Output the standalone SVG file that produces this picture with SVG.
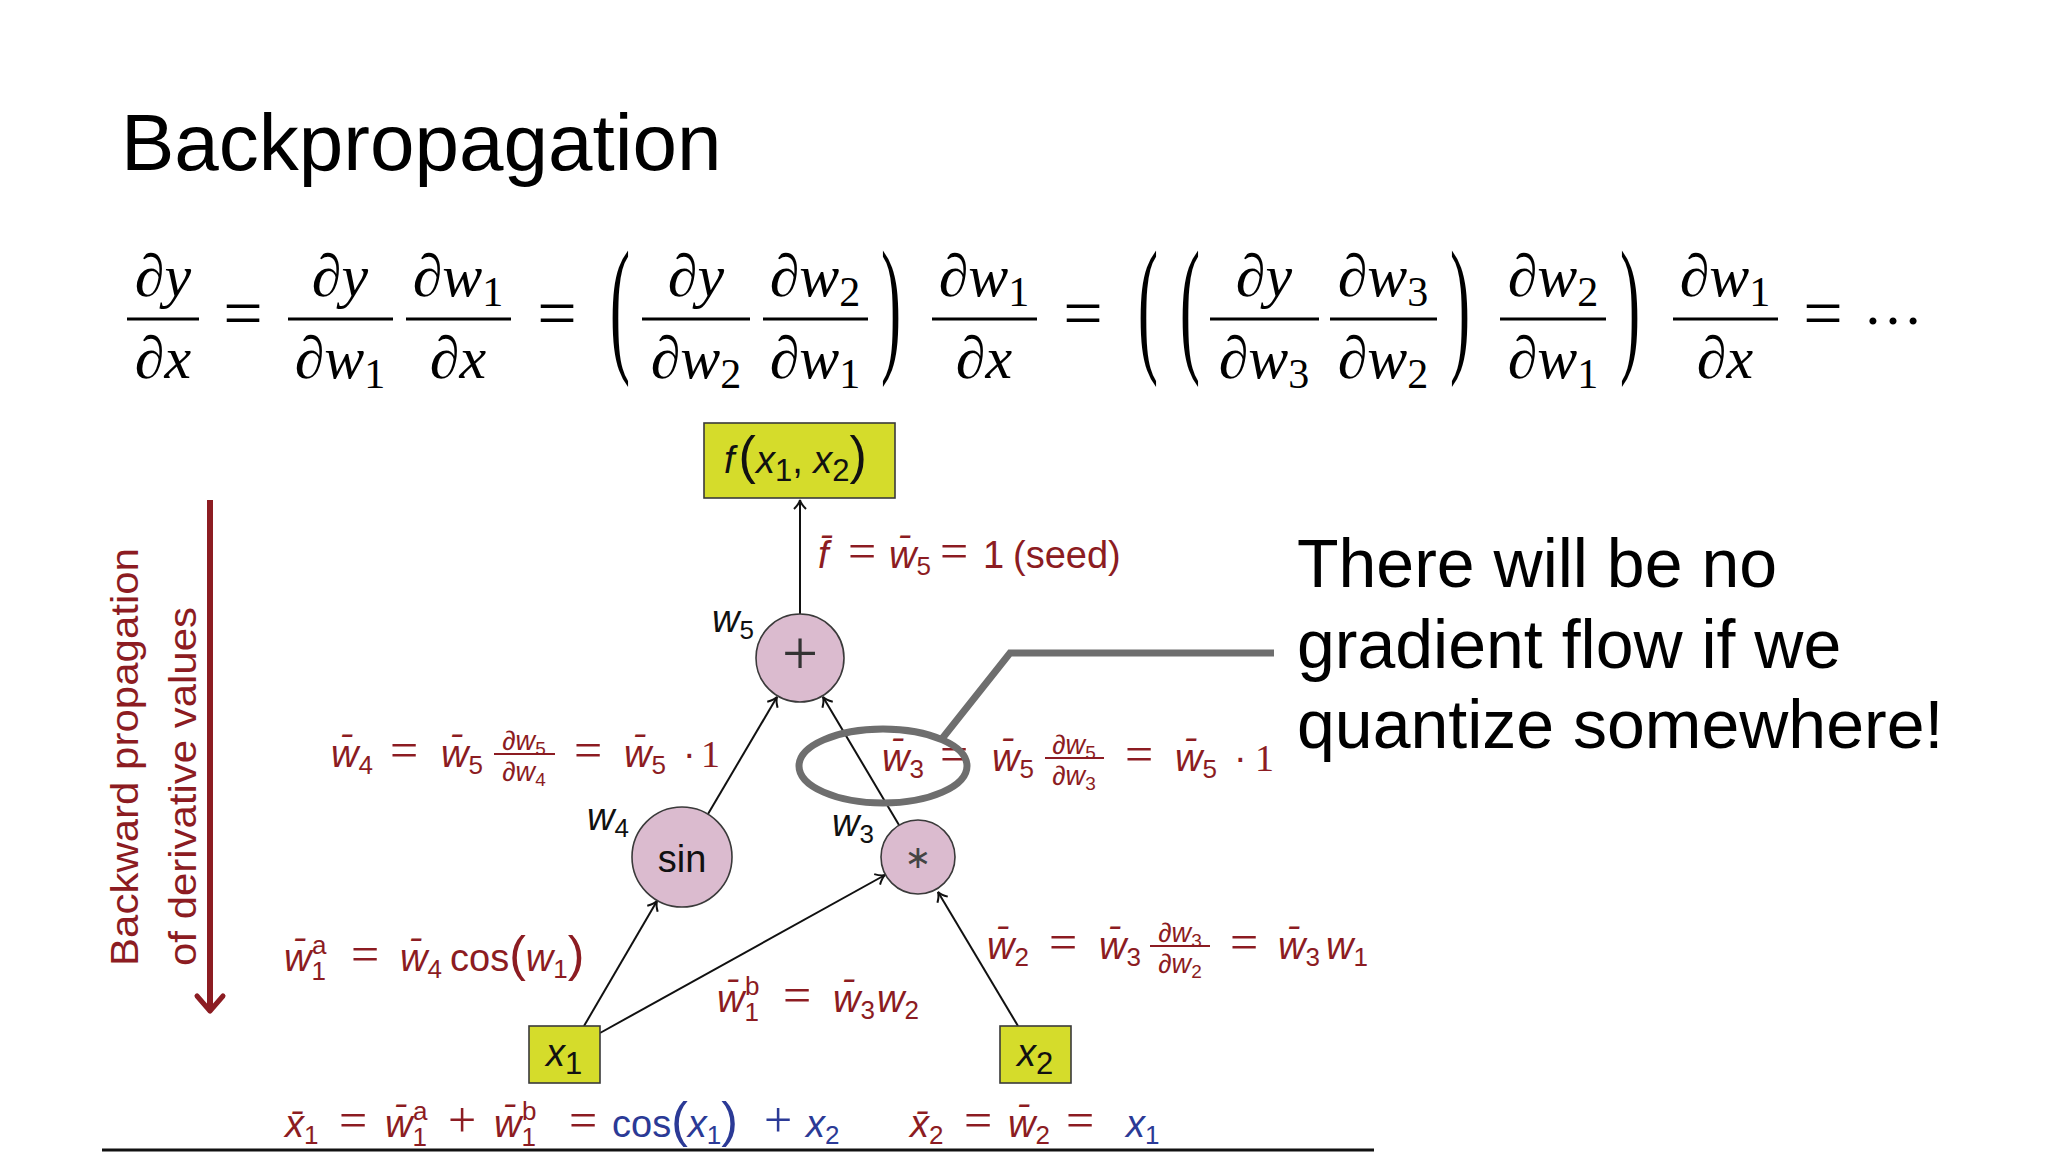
<svg xmlns="http://www.w3.org/2000/svg" width="2048" height="1152" viewBox="0 0 2048 1152">
<defs>
<style>
.t{font-family:"Liberation Sans",Arial,sans-serif;fill:#000}
.m{font-family:"Liberation Serif","Times New Roman",serif;font-style:italic;font-size:60px;fill:#000}
.ms{font-style:normal;font-size:42px}
.mo{font-family:"Liberation Serif","Times New Roman",serif;font-size:60px;fill:#000}
.meq{font-family:"Liberation Serif","Times New Roman",serif;font-size:70px;fill:#000}
.bar{stroke:#000;stroke-width:3}
.lbl{font-family:"Liberation Sans",Arial,sans-serif;font-size:38px;fill:#8c1c22}
.v{font-style:italic}
.sb{font-size:26px;font-style:normal}
.eq{font-family:"Liberation Serif","Times New Roman",serif;font-size:50px;font-style:normal}
.pr{font-size:50px;font-style:normal}
.blue{fill:#2b3a96}
.fr{font-size:27px}
.fs{font-size:19px;font-style:normal}
.rbar{stroke:#8c1c22;stroke-width:2}
.nl{font-family:"Liberation Sans",Arial,sans-serif;font-size:38px;fill:#111}
.node{fill:#dbbbcf;stroke:#3a3a3a;stroke-width:1.6}
.box{fill:#d5dc2b;stroke:#3a3a3a;stroke-width:1.6}
.edge{stroke:#111;stroke-width:2;fill:none;marker-end:url(#ah)}
.call{stroke:#6e6e6e;stroke-width:7;fill:none}
</style>
<marker id="ah" viewBox="-12 -8 14 16" refX="0" refY="0" markerWidth="14" markerHeight="16" markerUnits="userSpaceOnUse" orient="auto">
<path d="M-9,-6 Q-4,-1 0,0 Q-4,1 -9,6" fill="none" stroke="#111" stroke-width="2"/>
</marker>
<marker id="rah" viewBox="-22 -18 26 36" refX="0" refY="0" markerWidth="26" markerHeight="36" markerUnits="userSpaceOnUse" orient="auto">
<path d="M-15,-13 L0,0 L-15,13" fill="none" stroke="#8c1c22" stroke-width="5" stroke-linecap="round" stroke-linejoin="round"/>
</marker>
</defs>
<rect width="2048" height="1152" fill="#fff"/>

<text class="t" x="121" y="170" font-size="80">Backpropagation</text>

<g id="equation">
<text class="m" x="163" y="296" text-anchor="middle">∂y</text>
<line class="bar" x1="127" y1="319" x2="199" y2="319"/>
<text class="m" x="163" y="378" text-anchor="middle">∂x</text>
<text class="meq" x="243" y="337" text-anchor="middle">=</text>
<text class="m" x="340" y="296" text-anchor="middle">∂y</text>
<line class="bar" x1="288" y1="319" x2="393" y2="319"/>
<text class="m" x="340" y="378" text-anchor="middle">∂w<tspan class="ms" dy="10">1</tspan></text>
<text class="m" x="458" y="296" text-anchor="middle">∂w<tspan class="ms" dy="10">1</tspan></text>
<line class="bar" x1="406" y1="319" x2="511" y2="319"/>
<text class="m" x="458" y="378" text-anchor="middle">∂x</text>
<text class="meq" x="557" y="337" text-anchor="middle">=</text>
<text class="mo" transform="translate(620,320) scale(1,2.5)" y="14" text-anchor="middle">(</text>
<text class="m" x="696" y="296" text-anchor="middle">∂y</text>
<line class="bar" x1="642" y1="319" x2="750" y2="319"/>
<text class="m" x="696" y="378" text-anchor="middle">∂w<tspan class="ms" dy="10">2</tspan></text>
<text class="m" x="815" y="296" text-anchor="middle">∂w<tspan class="ms" dy="10">2</tspan></text>
<line class="bar" x1="763" y1="319" x2="868" y2="319"/>
<text class="m" x="815" y="378" text-anchor="middle">∂w<tspan class="ms" dy="10">1</tspan></text>
<text class="mo" transform="translate(891,320) scale(1,2.5)" y="14" text-anchor="middle">)</text>
<text class="m" x="984" y="296" text-anchor="middle">∂w<tspan class="ms" dy="10">1</tspan></text>
<line class="bar" x1="932" y1="319" x2="1037" y2="319"/>
<text class="m" x="984" y="378" text-anchor="middle">∂x</text>
<text class="meq" x="1083" y="337" text-anchor="middle">=</text>
<text class="mo" transform="translate(1148,320) scale(1,2.5)" y="14" text-anchor="middle">(</text>
<text class="mo" transform="translate(1190,320) scale(1,2.5)" y="14" text-anchor="middle">(</text>
<text class="m" x="1264" y="296" text-anchor="middle">∂y</text>
<line class="bar" x1="1210" y1="319" x2="1319" y2="319"/>
<text class="m" x="1264" y="378" text-anchor="middle">∂w<tspan class="ms" dy="10">3</tspan></text>
<text class="m" x="1383" y="296" text-anchor="middle">∂w<tspan class="ms" dy="10">3</tspan></text>
<line class="bar" x1="1330" y1="319" x2="1437" y2="319"/>
<text class="m" x="1383" y="378" text-anchor="middle">∂w<tspan class="ms" dy="10">2</tspan></text>
<text class="mo" transform="translate(1460,320) scale(1,2.5)" y="14" text-anchor="middle">)</text>
<text class="m" x="1553" y="296" text-anchor="middle">∂w<tspan class="ms" dy="10">2</tspan></text>
<line class="bar" x1="1500" y1="319" x2="1606" y2="319"/>
<text class="m" x="1553" y="378" text-anchor="middle">∂w<tspan class="ms" dy="10">1</tspan></text>
<text class="mo" transform="translate(1630,320) scale(1,2.5)" y="14" text-anchor="middle">)</text>
<text class="m" x="1725" y="296" text-anchor="middle">∂w<tspan class="ms" dy="10">1</tspan></text>
<line class="bar" x1="1673" y1="319" x2="1778" y2="319"/>
<text class="m" x="1725" y="378" text-anchor="middle">∂x</text>
<text class="meq" x="1823" y="337" text-anchor="middle">=</text>
<text class="mo" x="1893" y="324" font-size="80" text-anchor="middle">…</text>
</g>

<g id="backward-arrow">
<line x1="210" y1="500" x2="210" y2="1011" stroke="#8c1c22" stroke-width="6" marker-end="url(#rah)"/>
<text class="lbl" font-size="50" textLength="418" lengthAdjust="spacingAndGlyphs" transform="translate(138,966) rotate(-90)">Backward propagation</text>
<text class="lbl" font-size="50" textLength="359" lengthAdjust="spacingAndGlyphs" transform="translate(196,966) rotate(-90)">of derivative values</text>
</g>

<g id="connectors">
<line class="edge" x1="800" y1="614" x2="800" y2="500"/>
<line class="edge" x1="708" y1="814" x2="777" y2="697"/>
<line class="edge" x1="899" y1="825" x2="823" y2="697"/>
<line class="edge" x1="584" y1="1026" x2="657" y2="901"/>
<line class="edge" x1="600" y1="1033" x2="885" y2="875"/>
<line class="edge" x1="1018" y1="1026" x2="938" y2="892"/>
</g>

<g id="node-f">
<rect class="box" x="704" y="423" width="191" height="75"/>
<text class="nl" x="724" y="473" font-size="45"><tspan class="v">f</tspan><tspan font-size="52" dx="4">(</tspan><tspan class="v">x</tspan><tspan font-size="31" dy="8">1</tspan><tspan dy="-8">, </tspan><tspan class="v">x</tspan><tspan font-size="31" dy="8">2</tspan><tspan font-size="52" dy="-8">)</tspan></text>
</g>
<g id="node-plus">
<circle class="node" cx="800" cy="658" r="44"/>
<text x="800" y="675" font-family="Liberation Serif, serif" font-size="64" text-anchor="middle" fill="#333">+</text>
<text class="nl" x="712" y="632"><tspan class="v">w</tspan><tspan font-size="26" dy="7">5</tspan></text>
</g>
<g id="node-sin">
<circle class="node" cx="682" cy="857" r="50"/>
<text class="nl" x="682" y="872" font-size="42" text-anchor="middle">sin</text>
<text class="nl" x="587" y="830"><tspan class="v">w</tspan><tspan font-size="26" dy="7">4</tspan></text>
</g>
<g id="node-mul">
<circle class="node" cx="918" cy="857" r="37"/>
<text x="918" y="868" font-family="DejaVu Sans, sans-serif" font-size="32" text-anchor="middle" fill="#444">∗</text>
<text class="nl" x="832" y="836"><tspan class="v">w</tspan><tspan font-size="26" dy="7">3</tspan></text>
</g>
<g id="node-x1">
<rect class="box" x="529" y="1026" width="71" height="57"/>
<text class="nl" x="564" y="1066" font-size="44" text-anchor="middle"><tspan class="v">x</tspan><tspan font-size="31" dy="8">1</tspan></text>
</g>
<g id="node-x2">
<rect class="box" x="1000" y="1026" width="71" height="57"/>
<text class="nl" x="1035" y="1066" font-size="44" text-anchor="middle"><tspan class="v">x</tspan><tspan font-size="31" dy="8">2</tspan></text>
</g>

<g id="labels">
<text class="lbl" y="568"><tspan class="v" x="818">f̄</tspan><tspan class="eq" x="848">=</tspan><tspan class="v" x="889">w̄</tspan><tspan class="sb" dy="7">5</tspan><tspan class="eq" x="940" dy="-7">=</tspan><tspan x="983">1</tspan><tspan x="1013">(seed)</tspan></text>

<text class="lbl" y="767"><tspan class="v" x="331">w̄</tspan><tspan class="sb" dy="7">4</tspan><tspan class="eq" x="390" dy="-7">=</tspan><tspan class="v" x="441">w̄</tspan><tspan class="sb" dy="7">5</tspan><tspan class="eq" x="574" dy="-7">=</tspan><tspan class="v" x="624">w̄</tspan><tspan class="sb" dy="7">5</tspan><tspan x="683" dy="-7">·</tspan><tspan x="701" font-family="Liberation Serif, serif">1</tspan></text>
<text class="lbl fr v" x="524" y="750" text-anchor="middle">∂w<tspan class="fs" dy="5">5</tspan></text>
<line class="rbar" x1="494" y1="754" x2="555" y2="754"/>
<text class="lbl fr v" x="524" y="781" text-anchor="middle">∂w<tspan class="fs" dy="5">4</tspan></text>

<text class="lbl" y="771"><tspan class="v" x="882">w̄</tspan><tspan class="sb" dy="7">3</tspan><tspan class="eq" x="940" dy="-7">=</tspan><tspan class="v" x="992">w̄</tspan><tspan class="sb" dy="7">5</tspan><tspan class="eq" x="1125" dy="-7">=</tspan><tspan class="v" x="1175">w̄</tspan><tspan class="sb" dy="7">5</tspan><tspan x="1234" dy="-7">·</tspan><tspan x="1255" font-family="Liberation Serif, serif">1</tspan></text>
<text class="lbl fr v" x="1074" y="754" text-anchor="middle">∂w<tspan class="fs" dy="5">5</tspan></text>
<line class="rbar" x1="1045" y1="758" x2="1104" y2="758"/>
<text class="lbl fr v" x="1074" y="785" text-anchor="middle">∂w<tspan class="fs" dy="5">3</tspan></text>

<text class="lbl" y="959"><tspan class="v" x="987">w̄</tspan><tspan class="sb" dy="7">2</tspan><tspan class="eq" x="1049" dy="-7">=</tspan><tspan class="v" x="1099">w̄</tspan><tspan class="sb" dy="7">3</tspan><tspan class="eq" x="1230" dy="-7">=</tspan><tspan class="v" x="1278">w̄</tspan><tspan class="sb" dy="7">3</tspan><tspan class="v" x="1326" dy="-7">w</tspan><tspan class="sb" dy="7">1</tspan></text>
<text class="lbl fr v" x="1180" y="942" text-anchor="middle">∂w<tspan class="fs" dy="5">3</tspan></text>
<line class="rbar" x1="1150" y1="946" x2="1210" y2="946"/>
<text class="lbl fr v" x="1180" y="973" text-anchor="middle">∂w<tspan class="fs" dy="5">2</tspan></text>

<text class="lbl" y="971"><tspan class="v" x="284">w̄</tspan><tspan class="sb" dy="9">1</tspan><tspan class="sb v" x="312" dy="-26">a</tspan><tspan class="eq" x="351" dy="17">=</tspan><tspan class="v" x="400">w̄</tspan><tspan class="sb" dy="7">4</tspan><tspan x="450" dy="-7">cos</tspan><tspan class="pr">(</tspan><tspan class="v">w</tspan><tspan class="sb" dy="7">1</tspan><tspan class="pr" dy="-7">)</tspan></text>

<text class="lbl" y="1012"><tspan class="v" x="717">w̄</tspan><tspan class="sb" dy="9">1</tspan><tspan class="sb v" x="745" dy="-26">b</tspan><tspan class="eq" x="783" dy="17">=</tspan><tspan class="v" x="833">w̄</tspan><tspan class="sb" dy="7">3</tspan><tspan class="v" x="877" dy="-7">w</tspan><tspan class="sb" dy="7">2</tspan></text>

<text class="lbl" y="1137"><tspan class="v" x="285">x̄</tspan><tspan class="sb" dy="7">1</tspan><tspan class="eq" x="339" dy="-7">=</tspan><tspan class="v" x="385">w̄</tspan><tspan class="sb" dy="9">1</tspan><tspan class="sb v" x="413" dy="-26">a</tspan><tspan class="eq" x="448" dy="17">+</tspan><tspan class="v" x="494">w̄</tspan><tspan class="sb" dy="9">1</tspan><tspan class="sb v" x="522" dy="-26">b</tspan><tspan class="eq" x="569" dy="17">=</tspan><tspan class="blue" x="612">cos</tspan><tspan class="blue pr">(</tspan><tspan class="blue v">x</tspan><tspan class="blue sb" dy="7">1</tspan><tspan class="blue pr" dy="-7">)</tspan><tspan class="blue eq" x="764">+</tspan><tspan class="blue v" x="806">x</tspan><tspan class="blue sb" dy="7">2</tspan></text>

<text class="lbl" y="1137"><tspan class="v" x="910">x̄</tspan><tspan class="sb" dy="7">2</tspan><tspan class="eq" x="964" dy="-7">=</tspan><tspan class="v" x="1008">w̄</tspan><tspan class="sb" dy="7">2</tspan><tspan class="eq" x="1066" dy="-7">=</tspan><tspan class="blue v" x="1126">x</tspan><tspan class="blue sb" dy="7">1</tspan></text>
</g>

<g id="callout">
<ellipse class="call" cx="883" cy="766" rx="84" ry="37"/>
<polyline class="call" points="941,740 1010,653 1274,653"/>
<text class="t" font-size="68"><tspan x="1297" y="587">There will be no</tspan><tspan x="1297" y="668">gradient flow if we</tspan><tspan x="1297" y="748">quantize somewhere!</tspan></text>
</g>

<line x1="102" y1="1150" x2="1374" y2="1150" stroke="#111" stroke-width="3"/>
</svg>
